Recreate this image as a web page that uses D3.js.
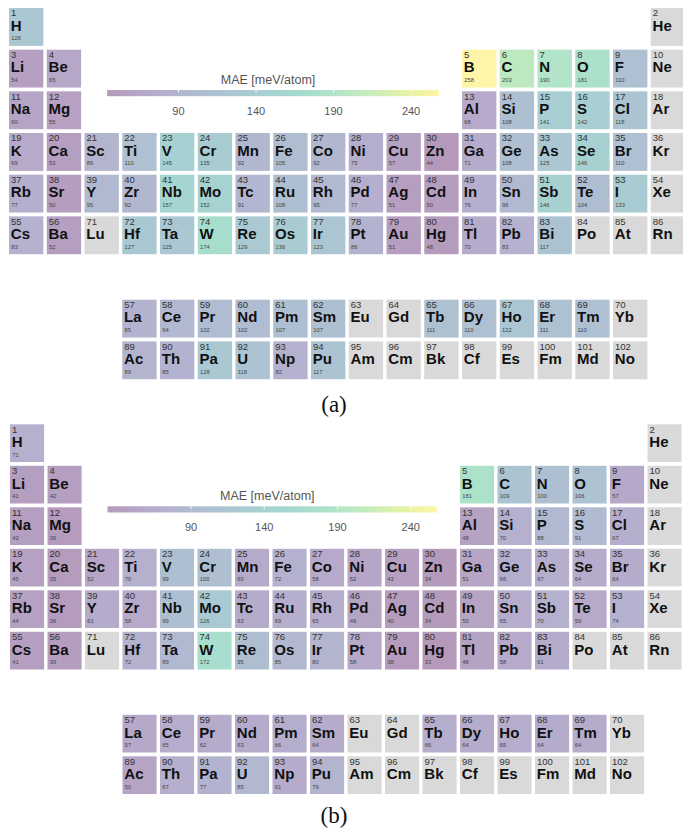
<!DOCTYPE html>
<html>
<head>
<meta charset="utf-8">
<script src="https://cdn.jsdelivr.net/npm/d3@7"></script>
<style>
  body { margin: 0; background: #fff; }
  svg { display: block; }
</style>
</head>
<body>
<div id="chart"></div>
<script>
// element symbols, atomic number 1..102
const symbols = [
  "H","He","Li","Be","B","C","N","O","F","Ne",
  "Na","Mg","Al","Si","P","S","Cl","Ar",
  "K","Ca","Sc","Ti","V","Cr","Mn","Fe","Co","Ni","Cu","Zn","Ga","Ge","As","Se","Br","Kr",
  "Rb","Sr","Y","Zr","Nb","Mo","Tc","Ru","Rh","Pd","Ag","Cd","In","Sn","Sb","Te","I","Xe",
  "Cs","Ba","La","Ce","Pr","Nd","Pm","Sm","Eu","Gd","Tb","Dy","Ho","Er","Tm","Yb",
  "Lu","Hf","Ta","W","Re","Os","Ir","Pt","Au","Hg","Tl","Pb","Bi","Po","At","Rn",
  "Fr","Ra","Ac","Th","Pa","U","Np","Pu","Am","Cm","Bk","Cf","Es","Fm","Md","No"
];

// MAE per element (meV/atom), null = no data (grey)
const maeA = [
  126, null, 54, 65, 258, 203, 190, 181, 110, null,
  60, 55, 68, 108, 141, 142, 118, null,
  69, 53, 89, 110, 145, 135, 92, 105, 92, 75, 57, 44, 71, 108, 125, 146, 110, null,
  77, 50, 95, 92, 157, 152, 91, 108, 95, 77, 51, 50, 76, 96, 146, 104, 133, null,
  83, 52, 85, 94, 102, 102, 107, 107, null, null, 111, 110, 122, 111, 110, null,
  null, 127, 125, 174, 129, 136, 123, 86, 51, 48, 70, 83, 117, null, null, null,
  null, null, 89, 85, 128, 118, 82, 117, null, null, null, null, null, null, null, null
];
const maeB = [
  71, null, 41, 42, 181, 109, 100, 106, 57, null,
  42, 36, 48, 70, 88, 91, 67, null,
  45, 35, 52, 70, 99, 100, 60, 72, 58, 52, 43, 34, 51, 66, 67, 64, 64, null,
  44, 36, 61, 58, 99, 126, 63, 69, 65, 49, 40, 34, 50, 65, 70, 59, 74, null,
  41, 39, 57, 65, 62, 63, 66, 64, null, null, 66, 64, 65, 64, 64, null,
  null, 72, 89, 172, 95, 85, 80, 58, 38, 33, 48, 58, 61, null, null, null,
  null, null, 50, 67, 77, 85, 61, 79, null, null, null, null, null, null, null, null
];
const colorTicks = [90, 140, 190, 240];
const panelLabels = ["(a)", "(b)"];

const width = 683, height = 829;
const vmax = d3.max(maeA.concat(maeB));

// grid position (group column, table row) from atomic number
function cellPos(z) {
  if (z === 1) return [0, 0];
  if (z === 2) return [17, 0];
  if (z <= 4) return [z - 3, 1];
  if (z <= 10) return [z + 7, 1];
  if (z <= 12) return [z - 11, 2];
  if (z <= 18) return [z - 1, 2];
  if (z <= 36) return [z - 19, 3];
  if (z <= 54) return [z - 37, 4];
  if (z <= 56) return [z - 55, 5];
  if (z <= 70) return [z - 54, 7];
  if (z <= 86) return [z - 69, 5];
  if (z >= 89) return [z - 86, 8];
  return null;
}

const svg = d3.select("#chart").append("svg")
  .attr("width", width)
  .attr("height", height);

const defs = svg.append("defs");

const panels = [
  { values: maeA, x0: 9, px: 37.75, y0: 8, py: 41.67, labelY: 412 },
  { values: maeB, x0: 10, px: 37.5, y0: 424.3, py: 41.5, labelY: 823 }
];

panels.forEach((p, i) => {
  const vmin = d3.min(p.values);
  const color = d3.scaleSequential(d3.interpolateViridis).domain([vmin, vmax]);
  const x = d3.scaleLinear().domain([0, 1]).range([p.x0, p.x0 + p.px]);
  const y = d3.scaleLinear().domain([0, 1]).range([p.y0, p.y0 + p.py]);
  const cw = p.px - 3.4, ch = p.py - 3.8;

  const cells = symbols.map((s, k) => ({ z: k + 1, sym: s, v: p.values[k], pos: cellPos(k + 1) }))
    .filter(d => d.pos);

  const g = svg.append("g");

  const cell = g.selectAll(".cell")
    .data(cells)
    .enter()
    .append("g")
    .attr("transform", d => `translate(${x(d.pos[0])},${y(d.pos[1])})`);

  cell.append("rect")
    .attr("width", cw)
    .attr("height", ch)
    .attr("fill", d => d.v == null ? "#d9d9d9" : color(d.v))
    .attr("fill-opacity", d => d.v == null ? 1 : 0.4);

  cell.append("text")
    .attr("x", 2).attr("y", 8.4)
    .style("font", "9.5px 'Liberation Sans', Arial, sans-serif")
    .style("fill", "#333")
    .text(d => d.z);

  cell.append("text")
    .attr("x", 1.8).attr("y", 22.8)
    .style("font", "bold 15px 'Liberation Sans', Arial, sans-serif")
    .style("fill", "#111")
    .text(d => d.sym);

  cell.append("text")
    .attr("x", 2.2).attr("y", 32.4)
    .style("font", "5.8px 'Liberation Sans', Arial, sans-serif")
    .style("fill", "#444")
    .text(d => d.v == null ? "" : d.v);

  // colour bar
  const barX0 = x(2.6), barX1 = x(11.39), barY = p.y0 + 82, barH = 6.2;
  const cx = d3.scaleLinear().domain([vmin, vmax]).range([barX0, barX1]);
  const grad = defs.append("linearGradient")
    .attr("id", "grad" + i)
    .attr("x1", "0%").attr("x2", "100%").attr("y1", "0%").attr("y2", "0%");
  d3.range(0, 1.0001, 0.05).forEach(t => {
    grad.append("stop")
      .attr("offset", (t * 100) + "%")
      .attr("stop-color", d3.interpolateViridis(t))
      .attr("stop-opacity", 0.4);
  });
  g.append("rect")
    .attr("x", barX0).attr("y", barY)
    .attr("width", barX1 - barX0).attr("height", barH)
    .attr("fill", `url(#grad${i})`);

  g.selectAll(".tickmark")
    .data(colorTicks)
    .enter()
    .append("line")
    .attr("x1", d => cx(d)).attr("x2", d => cx(d))
    .attr("y1", barY).attr("y2", barY + 2.5)
    .attr("stroke", "#fff")
    .attr("stroke-width", 1);

  g.selectAll(".ticklabel")
    .data(colorTicks)
    .enter()
    .append("text")
    .attr("x", d => cx(d))
    .attr("y", barY + 24.5)
    .attr("text-anchor", "middle")
    .style("font", "11px 'Liberation Sans', Arial, sans-serif")
    .style("fill", "#555")
    .text(d => d);

  g.append("text")
    .attr("x", (barX0 + barX1) / 2 - 5)
    .attr("y", p.y0 + 76)
    .attr("text-anchor", "middle")
    .style("font", "12.5px 'Liberation Sans', Arial, sans-serif")
    .style("fill", "#555")
    .text("MAE [meV/atom]");

  svg.append("text")
    .attr("x", 334)
    .attr("y", p.labelY)
    .attr("text-anchor", "middle")
    .style("font", "23px 'Liberation Serif', 'Times New Roman', serif")
    .style("fill", "#111")
    .text(panelLabels[i]);
});
</script>
</body>
</html>
